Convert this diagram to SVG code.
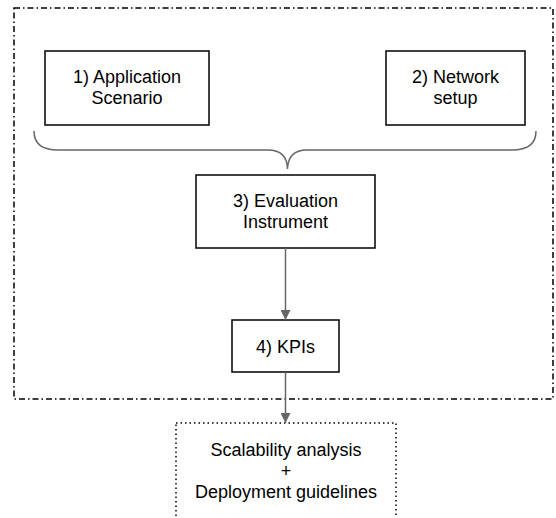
<svg xmlns="http://www.w3.org/2000/svg" width="556" height="518" viewBox="0 0 556 518">
<style>
.box{fill:#fff;stroke:#000;stroke-width:1.5}
.t{font-family:"Liberation Sans",Arial,sans-serif;font-size:18px;fill:#000;text-anchor:middle}
.conn{fill:none;stroke:#666;stroke-width:1.5}
</style>
<defs>
<marker id="ah" viewBox="0 0 10 10" refX="10" refY="5" markerWidth="10" markerHeight="10" markerUnits="userSpaceOnUse" orient="auto">
<path d="M0,0 L10,5 L0,10 Z" fill="#666"/>
</marker>
</defs>
<rect id="frame" x="14" y="8" width="539" height="391" fill="none" stroke="#000" stroke-width="1.5" stroke-dasharray="6 3 1.5 3"/>
<g id="n1"><rect class="box" x="45" y="51" width="164" height="74"/><text class="t" x="127" y="83">1) Application</text><text class="t" x="127" y="104">Scenario</text></g>
<g id="n2"><rect class="box" x="386" y="51" width="139" height="74"/><text class="t" x="455.5" y="83">2) Network</text><text class="t" x="455.5" y="104">setup</text></g>
<g id="n3"><rect class="box" x="196" y="175" width="179" height="73"/><text class="t" x="285.5" y="207">3) Evaluation</text><text class="t" x="285.5" y="228">Instrument</text></g>
<g id="n4"><rect class="box" x="232" y="320" width="107" height="52"/><text class="t" x="285.5" y="353">4) KPIs</text></g>
<g id="n5"><rect x="176" y="423" width="220" height="110" fill="#fff" stroke="#000" stroke-width="1.5" stroke-dasharray="1.5 3"/><text class="t" x="286" y="456">Scalability analysis</text><text class="t" x="286" y="477">+</text><text class="t" x="286" y="498">Deployment guidelines</text></g>
<g id="connectors">
<path class="conn" d="M34,131 Q34,150 58,150 L268,150 Q287,150 287.5,169 Q288,150 307,150 L512,150 Q536,150 536,131"/>
<path class="conn" d="M285.5,248 L285.5,320" marker-end="url(#ah)"/>
<path class="conn" d="M285.5,372 L285.5,423" marker-end="url(#ah)"/>
</g>
</svg>
